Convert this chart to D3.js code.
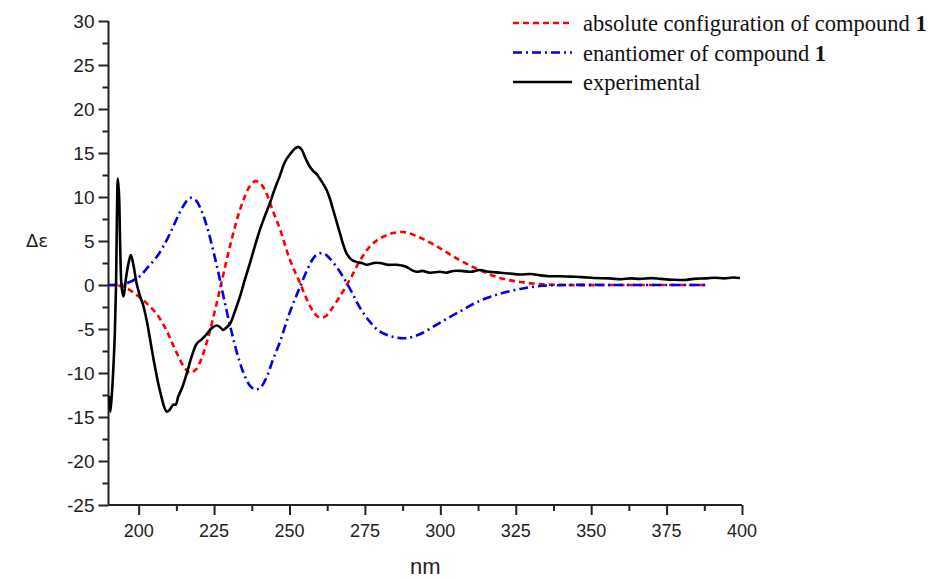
<!DOCTYPE html>
<html>
<head>
<meta charset="utf-8">
<script src="https://cdn.jsdelivr.net/npm/d3@7"></script>
<style>
  body { margin: 0; background: #fff; }
  svg { display: block; }
</style>
</head>
<body>
<div id="chart"></div>
<script>
// calculated ECD, absolute configuration of compound 1 (nm, Δε)
const calcWl = [190, 195, 200, 203, 206, 209, 211, 213, 215, 217, 219, 221, 223, 225, 227, 229, 231, 233, 235, 237, 238.8, 240.5, 242.5, 244.5, 246.8, 250, 253.5, 256.8, 258.5, 260, 261.8, 263.4, 266.7, 270, 273.4, 276.7, 280, 284.4, 288.3, 293.2, 299.8, 306.5, 313.1, 319.7, 326.4, 333, 341.8, 360, 389];
const calcAbs = [0, -0.2, -1.3, -2.2, -3.3, -5.0, -6.5, -8.0, -9.3, -10.0, -9.6, -8.2, -6.0, -3.3, -0.4, 2.6, 5.4, 7.9, 9.9, 11.3, 11.8, 11.5, 10.3, 8.4, 6.4, 3.0, 0.2, -2.4, -3.3, -3.7, -3.6, -3.0, -1.3, 0.6, 2.8, 4.4, 5.3, 5.9, 6.0, 5.4, 4.2, 2.8, 1.7, 0.8, 0.35, 0.1, 0, 0, 0];

// calculated ECD, enantiomer of compound 1
const calcEnt = [0, 0.1, 0.9, 2.0, 3.2, 4.9, 6.3, 7.8, 9.1, 9.9, 9.6, 8.3, 6.2, 3.5, 0.5, -2.7, -5.6, -8.2, -10.2, -11.5, -11.9, -11.6, -10.4, -8.5, -6.5, -3.2, -0.2, 2.4, 3.3, 3.6, 3.5, 3.0, 1.5, -0.4, -2.6, -4.2, -5.3, -5.9, -6.05, -5.6, -4.3, -3.0, -1.8, -1.0, -0.45, -0.12, 0, 0, 0];

// experimental ECD
const expWl = [190.3, 190.6, 191.1, 191.6, 192.1, 192.5, 192.8, 193.1, 193.5, 193.9, 194.4, 195, 195.8, 196.6, 197.4, 198.3, 199.3, 200.4, 201.5, 202.7, 203.8, 204.6, 205.4, 206.5, 207.6, 208.5, 209.3, 210.2, 211.5, 212.3, 213.1, 214.5, 215.9, 217.5, 219.2, 220.8, 222.5, 224.2, 225.9, 227, 228, 229.2, 230.3, 232, 233.6, 235.2, 236.9, 238.5, 240.2, 241.8, 243.5, 245.2, 246.8, 248, 249, 250.5, 251.8, 252.9, 254, 255.3, 256.8, 258, 259, 260.6, 262.3, 263.4, 264.5, 265.6, 266.7, 267.8, 268.9, 270.5, 272.3, 274, 275.6, 278, 280, 282.5, 285.5, 288.5, 290.5, 292.1, 294, 296.5, 299.9, 302, 304.3, 307, 310, 313.1, 316, 320, 323, 326.4, 330, 333, 336, 339.6, 343, 347, 351, 356.2, 360, 363, 366.1, 370, 373, 377, 381, 384, 388.2, 391, 394, 397, 399.3];
const expVal = [-12.6, -14.4, -12.5, -9.5, -5.5, 0, 8, 12.1, 10.2, 4, -0.4, -1.3, 0.8, 2.4, 3.4, 2.2, 0.2, -1.2, -2.3, -4.1, -6.2, -7.8, -9.3, -11.2, -12.8, -13.9, -14.4, -14.2, -13.6, -13.6, -12.7, -11.6, -10.1, -8.2, -6.7, -6.2, -5.6, -4.9, -4.6, -4.8, -5.1, -4.8, -4.4, -2.9, -1.3, 0.6, 2.5, 4.4, 6.3, 7.8, 9.3, 11.0, 12.4, 13.6, 14.3, 15.0, 15.5, 15.7, 15.4, 14.4, 13.4, 12.9, 12.6, 11.8, 10.8, 9.8, 8.5, 7.2, 5.9, 4.6, 3.6, 2.9, 2.6, 2.5, 2.3, 2.5, 2.5, 2.3, 2.3, 2.1, 1.7, 1.5, 1.6, 1.4, 1.5, 1.4, 1.6, 1.6, 1.5, 1.7, 1.5, 1.4, 1.3, 1.2, 1.25, 1.1, 1.0, 1.0, 0.95, 0.9, 0.8, 0.75, 0.65, 0.75, 0.7, 0.78, 0.7, 0.6, 0.57, 0.7, 0.75, 0.83, 0.75, 0.85, 0.8, 0.95];

const xTicks = [200, 225, 250, 275, 300, 325, 350, 375, 400];
const yTicks = [-25, -20, -15, -10, -5, 0, 5, 10, 15, 20, 25, 30];

const legendLabels = [
  { text: 'absolute configuration of compound ', bold: '1', color: '#ff0000', dash: '6,4' },
  { text: 'enantiomer of compound ', bold: '1', color: '#0000ee', dash: '9,4,2,4' },
  { text: 'experimental', bold: '', color: '#000', dash: null }
];

const W = 935, H = 579;
const svg = d3.select('#chart').append('svg').attr('width', W).attr('height', H);

const x = d3.scaleLinear().domain([190, 400]).range([108.5, 742]);
const y = d3.scaleLinear().domain([-25, 30]).range([505, 21]);

const axisColor = '#222';

// y axis
const yAxis = svg.append('g').attr('transform', `translate(${x(190)},0)`);
yAxis.call(d3.axisLeft(y).tickValues(d3.range(-25, 30.1, 2.5)).tickSize(6).tickFormat(''));
yAxis.call(g => g.selectAll('.tick line').filter(d => d % 5 === 0).attr('x2', -10));
yAxis.selectAll('path, line').attr('stroke', axisColor).attr('stroke-width', 2);
yAxis.select('.domain').attr('d', `M0,${y(30)}V${y(-25)}`);
yAxis.selectAll('.ylab').data(yTicks).enter().append('text')
  .attr('class', 'ylab')
  .attr('x', -14).attr('y', d => y(d)).attr('dy', '0.35em')
  .attr('text-anchor', 'end')
  .attr('font-family', 'Liberation Sans, Arial, sans-serif')
  .attr('font-size', 19).attr('fill', axisColor)
  .text(d => d);

// x axis
const xAxis = svg.append('g').attr('transform', `translate(0,${y(-25)})`);
xAxis.call(d3.axisBottom(x).tickValues(d3.range(200, 400.1, 12.5)).tickSize(6).tickFormat(''));
xAxis.call(g => g.selectAll('.tick line').filter(d => d % 25 === 0).attr('y2', 10));
xAxis.selectAll('path, line').attr('stroke', axisColor).attr('stroke-width', 2);
xAxis.select('.domain').attr('d', `M${x(190)},0H${x(400)}`);
xAxis.selectAll('.xlab').data(xTicks).enter().append('text')
  .attr('class', 'xlab')
  .attr('x', d => x(d)).attr('y', 32)
  .attr('text-anchor', 'middle')
  .attr('font-family', 'Liberation Sans, Arial, sans-serif')
  .attr('font-size', 18).attr('fill', axisColor)
  .text(d => d);

svg.append('text')
  .attr('x', x(295)).attr('y', 574)
  .attr('text-anchor', 'middle')
  .attr('font-family', 'Liberation Sans, Arial, sans-serif')
  .attr('font-size', 22).attr('fill', axisColor)
  .text('nm');

svg.append('text')
  .attr('x', 37).attr('y', y(5) + 6)
  .attr('text-anchor', 'middle')
  .attr('font-family', 'DejaVu Sans, sans-serif')
  .attr('font-size', 18).attr('fill', axisColor)
  .text('Δε');

// curves
const line = d3.line().x(d => x(d[0])).y(d => y(d[1])).curve(d3.curveCatmullRom.alpha(0.5));

svg.append('path')
  .datum(calcWl.map((w, i) => [w, calcAbs[i]]))
  .attr('d', line).attr('fill', 'none')
  .attr('stroke', '#ff0000').attr('stroke-width', 2.6).attr('stroke-dasharray', '6,4');

svg.append('path')
  .datum(calcWl.map((w, i) => [w, calcEnt[i]]))
  .attr('d', line).attr('fill', 'none')
  .attr('stroke', '#0000ee').attr('stroke-width', 2.6).attr('stroke-dasharray', '9,4,2,4');

svg.append('path')
  .datum(expWl.map((w, i) => [w, expVal[i]]))
  .attr('d', line).attr('fill', 'none')
  .attr('stroke', '#000').attr('stroke-width', 2.6).attr('stroke-linejoin', 'round');

// legend
const legend = svg.append('g');
legendLabels.forEach((d, i) => {
  const ly = 23 + i * 29.5;
  legend.append('line')
    .attr('x1', 513).attr('x2', 572).attr('y1', ly).attr('y2', ly)
    .attr('stroke', d.color).attr('stroke-width', 2.6)
    .attr('stroke-dasharray', d.dash);
  const t = legend.append('text')
    .attr('x', 583).attr('y', ly + 8)
    .attr('font-family', 'Liberation Serif, Times New Roman, serif')
    .attr('font-size', 22.5).attr('fill', '#111');
  t.append('tspan').text(d.text);
  if (d.bold) t.append('tspan').attr('font-weight', 'bold').text(d.bold);
});
</script>
</body>
</html>
